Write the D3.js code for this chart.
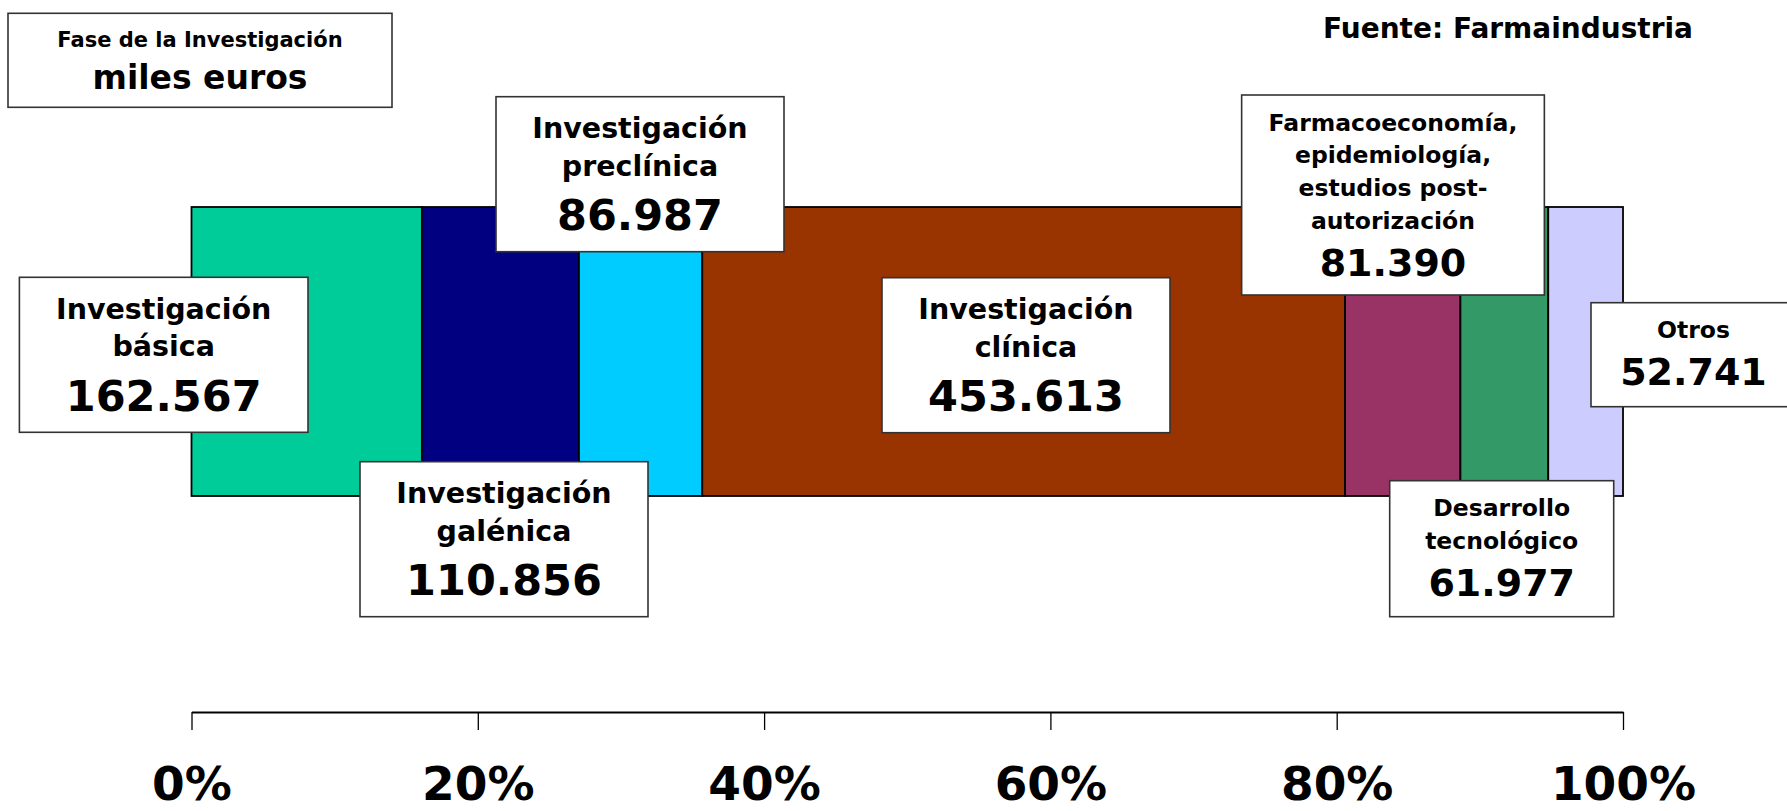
<!DOCTYPE html>
<html>
<head>
<meta charset="utf-8">
<script src="https://cdn.jsdelivr.net/npm/d3@7"></script>
<style>
  html, body { margin: 0; padding: 0; background: #ffffff; overflow: hidden; }
  svg { display: block; font-family: "DejaVu Sans", Verdana, sans-serif; font-weight: bold; }
</style>
</head>
<body>
<svg id="chart" width="1787" height="811"></svg>
<script>
// R&D spending by research phase (thousand euros)
const phases = [
  "Investigación básica",
  "Investigación galénica",
  "Investigación preclínica",
  "Investigación clínica",
  "Farmacoeconomía, epidemiología, estudios post-autorización",
  "Desarrollo tecnológico",
  "Otros"
];
const amounts = [162567, 110856, 86987, 453613, 81390, 61977, 52741];
const phaseColors = ["#00CC99", "#000080", "#00CCFF", "#993300", "#993366", "#339966", "#CCCCFF"];
const labelLines = [
  ["Investigación", "básica"],
  ["Investigación", "galénica"],
  ["Investigación", "preclínica"],
  ["Investigación", "clínica"],
  ["Farmacoeconomía,", "epidemiología,", "estudios post-", "autorización"],
  ["Desarrollo", "tecnológico"],
  ["Otros"]
];
const tickValues = [0, 0.2, 0.4, 0.6, 0.8, 1];
const titleLines = ["Fase de la Investigación", "miles euros"];
const sourceText = "Fuente: Farmaindustria";

// Callout box placement (box centre x, top y, width, height, text style)
const calloutLayout = [
  { cx: 163.7, top: 277.3, w: 288.6, h: 155, style: "large" },
  { cx: 504,   top: 461.7, w: 288,   h: 155, style: "large" },
  { cx: 640,   top: 96.7,  w: 288,   h: 155, style: "large" },
  { cx: 1026,  top: 277.7, w: 288,   h: 155, style: "large" },
  { cx: 1393,  top: 95,    w: 302.7, h: 200, style: "small" },
  { cx: 1501.7,top: 480.7, w: 224,   h: 136, style: "small" },
  { cx: 1693.5,top: 302.7, w: 205,   h: 104, style: "small" }
];

const textStyles = {
  large: { lineSize: 28.5, first: 41.5, step: 37.5, valueSize: 43, valueGap: 54.3 },
  small: { lineSize: 23.5, first: 35.7, step: 32.6, valueSize: 38, valueGap: 47 }
};

const svg = d3.select("#chart");
const esLocale = d3.formatLocale({ decimal: ",", thousands: ".", grouping: [3], currency: ["", " €"] });
const fmtValue = esLocale.format(",d");

const total = d3.sum(amounts);
const rows = phases.map((p, i) => ({ phase: p, value: amounts[i], color: phaseColors[i], lines: labelLines[i] }));
let acc = 0;
rows.forEach(r => { r.start = acc / total; acc += r.value; r.end = acc / total; });

// Scales
const x = d3.scaleLinear().domain([0, 1]).range([191.5, 1623]);
const y = d3.scaleBand().domain(["Fase"]).range([207, 496]).padding(0);

// Stacked 100% bar
svg.append("g").selectAll("rect")
  .data(rows)
  .join("rect")
  .attr("x", d => x(d.start))
  .attr("width", d => x(d.end) - x(d.start))
  .attr("y", y("Fase"))
  .attr("height", y.bandwidth())
  .attr("fill", d => d.color)
  .attr("stroke", "#000")
  .attr("stroke-width", 1.8);

// Percentage axis
const axisY = 712;
const axis = d3.axisBottom(x)
  .tickValues(tickValues)
  .tickSize(18)
  .tickSizeOuter(0)
  .tickFormat(d3.format(".0%"));
const gAxis = svg.append("g").attr("transform", `translate(0,${axisY})`).call(axis);
gAxis.attr("font-size", null).attr("font-family", null);
gAxis.select(".domain").attr("stroke", "#000").attr("stroke-width", 2.2);
gAxis.selectAll(".tick line").attr("stroke", "#000").attr("stroke-width", 1.3);
gAxis.selectAll(".tick text")
  .attr("y", 88)
  .attr("dy", 0)
  .attr("fill", "#000")
  .style("font-family", "'DejaVu Sans', Verdana, sans-serif")
  .style("font-weight", "bold")
  .style("font-size", "47px");

// Callout boxes with phase name and amount
const callouts = svg.append("g").selectAll("g")
  .data(rows.map((r, i) => Object.assign({}, r, calloutLayout[i])))
  .join("g");

callouts.append("rect")
  .attr("x", d => d.cx - d.w / 2)
  .attr("y", d => d.top)
  .attr("width", d => d.w)
  .attr("height", d => d.h)
  .attr("fill", "#fff")
  .attr("stroke", "#333")
  .attr("stroke-width", 1.6);

callouts.each(function (d) {
  const st = textStyles[d.style];
  const g = d3.select(this);
  d.lines.forEach((line, k) => {
    g.append("text")
      .attr("x", d.cx)
      .attr("y", d.top + st.first + k * st.step)
      .attr("text-anchor", "middle")
      .attr("font-size", st.lineSize)
      .attr("fill", "#000")
      .text(line);
  });
  const lastBase = d.top + st.first + (d.lines.length - 1) * st.step;
  g.append("text")
    .attr("x", d.cx)
    .attr("y", lastBase + st.valueGap)
    .attr("text-anchor", "middle")
    .attr("font-size", st.valueSize)
    .attr("fill", "#000")
    .text(fmtValue(d.value));
});

// Title box
const titleG = svg.append("g");
titleG.append("rect")
  .attr("x", 8).attr("y", 13.3).attr("width", 384).attr("height", 94)
  .attr("fill", "#fff").attr("stroke", "#333").attr("stroke-width", 1.6);
titleG.append("text")
  .attr("x", 200).attr("y", 46.7).attr("text-anchor", "middle")
  .attr("font-size", 21).attr("fill", "#000").text(titleLines[0]);
titleG.append("text")
  .attr("x", 200).attr("y", 89).attr("text-anchor", "middle")
  .attr("font-size", 33).attr("fill", "#000").text(titleLines[1]);

// Source note
svg.append("text")
  .attr("x", 1508).attr("y", 38).attr("text-anchor", "middle")
  .attr("font-size", 28).attr("fill", "#000").text(sourceText);
</script>
</body>
</html>
